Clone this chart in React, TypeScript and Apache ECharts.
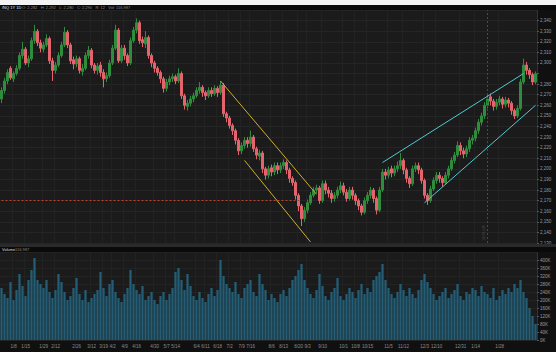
import React, { useEffect, useRef } from "react";
import * as echarts from "echarts";

// [open, close, low, high]
const ohlc: number[][] = [
  [2266,2274,2262,2277],[2274,2283,2271,2286],[2283,2291,2280,2294],[2295,2286,2284,2297],[2285,2290,2282,2292],
  [2290,2295,2288,2298],[2295,2307,2293,2310],[2307,2313,2304,2320],[2313,2300,2298,2315],[2300,2304,2296,2307],
  [2304,2321,2302,2324],[2321,2330,2318,2336],[2330,2319,2316,2332],[2319,2314,2310,2322],[2313,2317,2310,2320],
  [2317,2323,2315,2327],[2323,2302,2299,2325],[2302,2293,2283,2305],[2293,2298,2290,2301],[2298,2307,2296,2310],
  [2307,2317,2305,2320],[2317,2329,2315,2334],[2329,2317,2314,2331],[2317,2302,2299,2319],[2303,2299,2294,2306],
  [2299,2304,2296,2307],[2304,2293,2290,2306],[2292,2295,2288,2299],[2295,2307,2293,2310],[2307,2312,2304,2316],
  [2312,2298,2295,2314],[2298,2293,2290,2300],[2293,2297,2289,2300],[2298,2291,2287,2301],[2291,2285,2277,2294],
  [2285,2288,2282,2291],[2288,2300,2286,2303],[2300,2314,2298,2317],[2314,2331,2312,2336],[2331,2302,2300,2333],
  [2302,2314,2300,2317],[2314,2307,2303,2317],[2307,2300,2297,2309],[2300,2321,2298,2324],[2321,2331,2319,2334],
  [2331,2338,2328,2342],[2338,2321,2318,2340],[2322,2319,2315,2325],[2318,2324,2314,2330],[2324,2307,2304,2326],
  [2307,2300,2296,2309],[2300,2295,2291,2302],[2295,2291,2288,2297],[2291,2285,2281,2293],[2285,2276,2272,2287],
  [2276,2282,2273,2285],[2282,2285,2279,2288],[2285,2287,2282,2290],[2287,2283,2280,2289],[2283,2290,2281,2295],
  [2290,2269,2266,2292],[2269,2260,2256,2271],[2259,2262,2255,2265],[2262,2266,2259,2269],[2266,2269,2263,2272],
  [2269,2274,2267,2277],[2274,2277,2271,2282],[2277,2272,2268,2279],[2272,2269,2265,2274],[2269,2274,2267,2277],
  [2274,2271,2268,2277],[2271,2276,2269,2279],[2276,2272,2268,2278],[2272,2279,2270,2283],[2279,2252,2249,2281],
  [2252,2248,2244,2254],[2248,2241,2238,2250],[2241,2236,2232,2243],[2236,2227,2223,2238],[2227,2217,2213,2229],
  [2217,2222,2214,2225],[2222,2227,2219,2230],[2227,2224,2220,2230],[2224,2230,2221,2236],[2230,2219,2216,2232],
  [2219,2213,2209,2221],[2212,2215,2208,2218],[2215,2200,2196,2217],[2200,2194,2190,2202],[2194,2200,2191,2203],
  [2201,2197,2193,2204],[2197,2203,2194,2206],[2203,2199,2195,2206],[2199,2203,2196,2206],[2203,2206,2200,2209],
  [2206,2199,2195,2208],[2199,2191,2187,2201],[2191,2187,2184,2193],[2187,2175,2171,2189],[2175,2165,2160,2177],
  [2165,2153,2146,2167],[2153,2161,2150,2164],[2161,2168,2158,2171],[2168,2175,2166,2178],[2175,2180,2173,2183],
  [2180,2182,2177,2185],[2182,2170,2167,2184],[2170,2186,2168,2189],[2186,2180,2176,2189],[2180,2177,2173,2183],
  [2177,2172,2168,2180],[2172,2175,2169,2178],[2175,2180,2172,2183],[2180,2184,2177,2188],[2184,2178,2175,2187],
  [2178,2172,2169,2181],[2172,2180,2170,2183],[2180,2175,2171,2183],[2175,2170,2166,2177],[2170,2165,2161,2172],
  [2165,2159,2156,2167],[2159,2170,2157,2173],[2170,2175,2167,2178],[2175,2180,2172,2183],[2180,2172,2168,2182],
  [2172,2161,2157,2174],[2161,2180,2159,2183],[2180,2197,2178,2200],[2197,2194,2190,2200],[2194,2199,2191,2202],
  [2200,2196,2192,2203],[2196,2200,2193,2203],[2200,2203,2197,2207],[2203,2208,2200,2215],[2208,2199,2195,2210],
  [2199,2191,2187,2201],[2191,2186,2182,2193],[2186,2200,2184,2203],[2200,2203,2197,2206],[2203,2199,2195,2206],
  [2199,2189,2186,2201],[2189,2175,2172,2191],[2175,2170,2166,2177],[2170,2181,2168,2184],[2181,2189,2179,2192],
  [2189,2194,2186,2197],[2194,2191,2187,2197],[2191,2187,2183,2193],[2187,2194,2185,2197],[2194,2200,2191,2203],
  [2200,2208,2198,2211],[2208,2213,2205,2216],[2213,2222,2211,2226],[2222,2217,2213,2225],[2217,2214,2210,2220],
  [2214,2219,2211,2222],[2219,2227,2216,2230],[2227,2229,2223,2232],[2229,2236,2226,2239],[2236,2244,2233,2247],
  [2244,2250,2241,2253],[2250,2260,2247,2263],[2260,2266,2257,2271],[2268,2264,2260,2271],[2264,2259,2255,2266],
  [2259,2263,2256,2266],[2263,2266,2260,2269],[2266,2261,2257,2268],[2261,2265,2258,2268],[2265,2262,2258,2267],
  [2262,2255,2251,2264],[2255,2250,2247,2257],[2250,2257,2248,2260],[2257,2282,2255,2285],[2282,2298,2280,2304],
  [2298,2293,2289,2301],[2293,2289,2285,2295],[2289,2282,2279,2291],[2282,2290,2280,2292],
];

const volumes: number[] = [
  260, 230, 210, 290, 200, 250, 330,
  270, 220, 300, 350, 410, 300,
  280, 260, 300, 240, 210, 250, 330, 290,
  240, 200, 220, 260, 310, 230, 200, 250, 190, 210,
  230, 250, 340, 260, 220, 280, 300, 240, 210, 190,
  230, 260, 350, 280, 250, 230, 270, 200, 220, 240,
  200, 180, 220, 240, 200, 230, 260, 340, 360, 300,
  250, 330, 270, 220, 200, 240, 210, 190, 230, 260,
  220, 250, 400, 320, 280, 260, 240, 290, 230, 210,
  260, 280, 300, 240, 220, 330, 280, 250, 200, 230,
  210, 190, 230, 250, 220, 260, 300, 320, 350, 380,
  300, 260, 230, 210, 250, 330, 270, 220, 200, 240,
  260, 310, 220, 200, 230, 260, 240, 210, 250, 280,
  230, 260, 240, 300, 320, 340, 380, 300, 260, 230,
  210, 240, 280, 250, 220, 260, 230, 210, 250, 300,
  330, 290, 260, 230, 200, 220, 240, 260, 210, 230,
  250, 280, 220, 200, 240, 230, 260, 250, 220, 270,
  240, 230, 210, 260, 200, 220, 250, 230, 260, 240,
  280, 260, 300, 240, 210, 160, 120, 80,
];

const categories: string[] = ohlc.map((_, i) => String(i));

// [category index, label]
const xTickLabels: [number, string][] = [
  [4, "1/8"], [8, "1/15"], [14, "1/29"], [18, "2/12"], [25, "2/26"], [30, "3/12"], [34, "3/19"],
  [37, "4/2"], [41, "4/9"], [45, "4/16"], [51, "4/30"], [55, "5/7"], [58, "5/14"], [65, "6/4"],
  [68, "6/11"], [72, "6/18"], [76, "7/2"], [80, "7/9"], [83, "7/16"], [90, "8/6"], [94, "8/13"],
  [99, "8/20"], [102, "9/3"], [107, "9/10"], [114, "10/1"], [118, "10/8"], [122, "10/15"],
  [129, "11/5"], [134, "11/12"], [141, "12/3"], [145, "12/10"], [153, "12/31"], [158, "1/14"], [166, "1/28"],
];

const priceAxis = { min: 2130, max: 2350, step: 10 };
const volumeAxis = { min: 0, max: 440, step: 40 };

// trend lines: [[startIndex, startPrice], [endIndex, endPrice]]
const yellowChannel: [number, number][][] = [
  [[73, 2283], [105, 2176]],
  [[81, 2208], [103, 2131]],
];
const cyanChannel: [number, number][][] = [
  [[127, 2206], [174, 2290]],
  [[141, 2168], [178, 2260]],
];
const supportLine = { from: 0, to: 100, price: 2170 };
const dividerIndex = 162;
const dividerLabel = "12/31/18";

const fmt = (v: number) => v.toLocaleString("en-US");

export default function App() {
  const ref = useRef<HTMLDivElement>(null);
  useEffect(() => {
    if (!ref.current) return;
    const chart = echarts.init(ref.current, undefined, { renderer: "svg" });
    const tickMap = new Map<number, string>(xTickLabels);
    const last = ohlc[ohlc.length - 1];
    const lastPrice = last[1];
    const mkLine = (seg: [number, number][], color: string) => [
      { coord: [categories[seg[0][0]], seg[0][1]], lineStyle: { color, width: 1, type: "solid" } },
      { coord: [categories[seg[1][0]], seg[1][1]] },
    ];
    const option: any = {
      animation: false,
      backgroundColor: "#101010",
      textStyle: { fontFamily: "Liberation Sans" },
      grid: [
        { left: 0, top: 10, width: 537, height: 233, show: true, backgroundColor: "#1b1b1b", borderWidth: 0 },
        { left: 0, top: 252, width: 537, height: 88, show: true, backgroundColor: "#1b1b1b", borderWidth: 0 },
      ],
      xAxis: [
        {
          type: "category", gridIndex: 0, data: categories,
          axisLine: { show: false }, axisTick: { show: false }, axisLabel: { show: false },
          splitLine: { show: true, interval: (i: number) => tickMap.has(i), lineStyle: { color: "#222222", width: 1 } },
        },
        {
          type: "category", gridIndex: 1, data: categories,
          axisLine: { show: false }, axisTick: { show: false },
          axisLabel: {
            show: true, interval: (i: number) => tickMap.has(i),
            formatter: (_v: string, i: number) => tickMap.get(i) ?? "",
            fontSize: 4.5, color: "#8c8c8c", margin: 4,
          },
          splitLine: { show: true, interval: (i: number) => tickMap.has(i), lineStyle: { color: "#222222", width: 1 } },
        },
      ],
      yAxis: [
        {
          type: "value", gridIndex: 0, position: "right",
          min: priceAxis.min, max: priceAxis.max, interval: priceAxis.step,
          axisLine: { show: true, lineStyle: { color: "#333" } },
          axisTick: { show: true, length: 2, lineStyle: { color: "#555" } },
          axisLabel: {
            fontSize: 4.5, color: "#9a9a9a", margin: 3, showMaxLabel: false,
            formatter: (v: number) => (Math.abs(v - lastPrice) < 6 ? "" : fmt(v)),
          },
          splitLine: { show: true, lineStyle: { color: "#252525", width: 1 } },
        },
        {
          type: "value", gridIndex: 1, position: "right",
          min: volumeAxis.min, max: volumeAxis.max, interval: volumeAxis.step,
          axisLine: { show: true, lineStyle: { color: "#333" } },
          axisTick: { show: true, length: 2, lineStyle: { color: "#555" } },
          axisLabel: { fontSize: 4.5, color: "#9a9a9a", margin: 3, showMaxLabel: false, formatter: (v: number) => v + "K" },
          splitLine: { show: true, lineStyle: { color: "#232323", width: 1 } },
        },
      ],
      series: [
        {
          type: "candlestick", xAxisIndex: 0, yAxisIndex: 0, data: ohlc, barWidth: "62%",
          itemStyle: { color: "#2f8c3c", color0: "#e3646c", borderColor: "#2f8c3c", borderColor0: "#e3646c", borderWidth: 1 },
          markLine: {
            silent: true, symbol: ["none", "none"], animation: false,
            label: { show: false },
            data: [
              ...yellowChannel.map((s) => mkLine(s, "#cfae2e")),
              ...cyanChannel.map((s) => mkLine(s, "#4fc9d2")),
              [
                { coord: [categories[supportLine.from], supportLine.price], lineStyle: { color: "#b4432f", width: 1, type: [2, 2] } },
                { coord: [categories[supportLine.to], supportLine.price] },
              ],
              {
                xAxis: categories[dividerIndex],
                lineStyle: { color: "#4a4a4a", width: 1, type: [2, 2] },
                label: { show: true, formatter: dividerLabel, position: "insideStartTop", fontSize: 4, color: "#555", distance: 2 },
              },
              {
                yAxis: lastPrice,
                lineStyle: { opacity: 0 },
                label: {
                  show: true, position: "end", distance: 1, formatter: fmt(lastPrice),
                  fontSize: 5, color: "#0a0a0a", backgroundColor: "#2fd34a", padding: [1, 3],
                },
              },
            ],
          },
        },
        {
          type: "bar", xAxisIndex: 1, yAxisIndex: 1, data: volumes,
          barCategoryGap: "25%", itemStyle: { color: "#235d76" },
        },
      ],
      graphic: [
        { type: "rect", shape: { x: 0, y: 0, width: 556, height: 5 }, style: { fill: "#f3f3f3" }, z: 100 },
        { type: "rect", shape: { x: 0, y: 5, width: 556, height: 5 }, style: { fill: "#0a0a0a" }, z: 100 },
        { type: "text", x: 2, y: 5.5, style: { text: "/NQ 1Y 1D", fontSize: 4, fill: "#e8e8e8" }, z: 101 },
        { type: "text", x: 22, y: 5.5, style: { text: "O: 2,282   H: 2,292   L: 2,280   C: 2,290   R: 12   Vol: 116,987", fontSize: 4, fill: "#8a8a8a" }, z: 101 },
        { type: "rect", shape: { x: 0, y: 244, width: 556, height: 3 }, style: { fill: "#2a2a2a" }, z: 100 },
        { type: "rect", shape: { x: 0, y: 247, width: 556, height: 5 }, style: { fill: "#0a0a0a" }, z: 100 },
        { type: "text", x: 2, y: 247.5, style: { text: "Volume", fontSize: 4, fill: "#dddddd" }, z: 101 },
        { type: "text", x: 15, y: 247.5, style: { text: "116,987", fontSize: 4, fill: "#8a8a8a" }, z: 101 },
      ],
    };
    chart.setOption(option);
    return () => chart.dispose();
  }, []);
  return <div ref={ref} style={{ position: "absolute", left: 0, top: 0, width: 556, height: 352 }} />;
}
